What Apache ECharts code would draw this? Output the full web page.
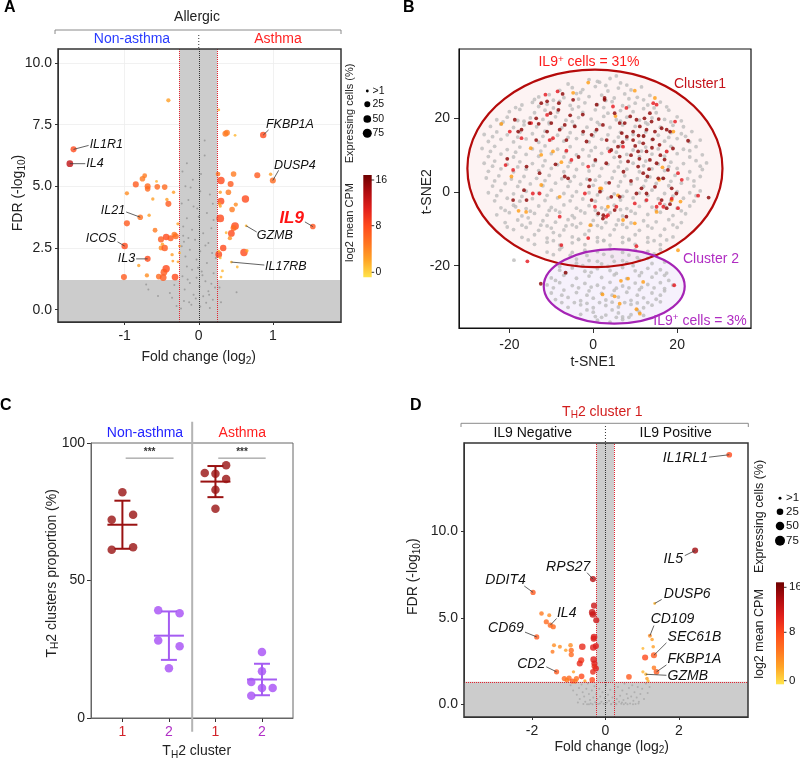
<!DOCTYPE html>
<html><head><meta charset="utf-8">
<script src="https://cdn.jsdelivr.net/npm/echarts@6/dist/echarts.min.js"></script>
<style>html,body{margin:0;padding:0;background:#fff}#c{width:800px;height:759px}</style>
</head><body><div id="c"></div>
<script>
const FONT = '"Liberation Sans", Arial, Helvetica, sans-serif';

/* ---------------- Panel A : volcano, allergic asthma vs non-asthma ---------------- */
const A_X_RANGE = [-1.9, 1.92];
const A_Y_RANGE = [-0.5, 10.57];
const A_X_TICKS = [-1, 0, 1];
const A_Y_TICKS = [0, 2.5, 5, 7.5, 10];
const A_FC_CUT = [-0.26, 0.25];
const A_FDR_CUT = 1.2;
// [fold change, FDR, log2 mean CPM, expressing cells %]
const A_GENES = [
 [-0.41,8.49,3,8],[-1.69,6.5,8,25],[-1.74,5.92,12.5,35],[-0.73,5.43,5,12],[-0.76,5.31,5,20],
 [-0.85,5.08,7,25],[-0.69,5.0,6,25],[-0.69,4.9,6,20],[-0.57,5.2,2,1],[-0.56,4.98,6,20],
 [-0.46,4.97,6,20],[-0.34,4.76,3,3],[-0.97,4.72,4,8],[-0.62,4.49,3,3],[-0.43,4.47,3,3],
 [-0.41,4.29,7,25],[-0.79,3.75,5.5,20],[-0.67,3.83,3,3],[-0.97,3.5,7,25],[-0.28,3.48,3,3],
 [-0.59,3.22,5,12],[-0.44,2.95,8,30],[-0.51,2.85,7,25],[-0.38,2.9,7,25],[-0.33,3.05,5,20],
 [-0.31,2.98,6,25],[-0.49,2.65,3,3],[-0.51,2.5,4,12],[-0.46,2.5,7,30],[-0.36,2.23,3,3],
 [-0.35,1.97,3,1],[-0.28,1.94,3,1],[-0.26,2.58,3,1],[-0.26,2.3,2,1],[-1.0,2.58,8,30],
 [-0.69,2.06,8,25],[-0.81,1.79,3,3],[-0.44,1.66,8,45],[-0.47,1.52,7,35],[-0.70,1.39,4,8],
 [-0.54,1.34,6,20],[-0.48,1.30,7,35],[-0.32,1.32,8,35],[-1.01,1.32,7,25],
 [0.27,8.1,2,1],[0.36,7.13,5,25],[0.38,7.17,5,25],[0.49,7.07,2,1],[0.87,7.08,8,30],
 [0.26,5.5,5,12],[0.47,5.5,5,20],[0.79,5.45,7,25],[0.97,5.49,3,3],[1.0,5.24,6,25],
 [0.30,5.24,8,45],[0.43,5.1,7,25],[0.29,4.76,3,3],[0.40,4.76,5,20],[0.30,4.4,8,35],
 [0.28,4.29,3,3],[0.29,4.2,3,3],[0.50,4.26,4,8],[0.63,4.49,8,45],[0.45,4.06,5,20],
 [0.29,3.7,8,50],[1.54,3.37,7.5,20],[0.64,3.4,2,1],[0.49,3.39,8,50],[0.47,3.31,6,25],
 [0.37,3.12,2,1],[0.44,3.09,8,35],[0.42,2.9,4,8],[0.33,2.5,8,30],[0.27,2.24,8,35],
 [0.61,2.32,8,45],[0.65,2.39,3,3],[0.29,2.1,2,1],[0.44,1.93,2,1],[0.52,1.73,2,1],
 [0.32,1.57,2,1],[0.30,1.32,2,1],[0.27,2.37,2,1]
];
// non-significant genes [fold change, FDR]
const A_BACKGROUND = [
 [0.08,6.86],[0.08,6.25],[-0.16,5.94],[-0.22,5.6],[-0.08,5.27],[-0.18,5.0],[0.02,4.8],[0.15,4.67],
 [-0.14,4.45],[-0.23,4.31],[-0.07,4.18],[0.11,3.92],[-0.16,3.71],[0.0,3.77],[0.2,3.64],[-0.21,3.37],
 [-0.09,3.24],[0.06,3.1],[-0.14,2.91],[-0.05,2.84],[0.13,2.7],[-0.23,2.57],[-0.12,2.43],[0.02,2.37],
 [0.18,2.3],[-0.18,2.16],[-0.03,2.03],[0.11,1.89],[-0.16,1.75],[-0.09,1.62],[0.04,1.55],[0.2,1.48],
 [-0.22,1.36],[-0.03,1.29],[0.09,1.15],[-0.12,1.08],[0.01,0.94],[-0.19,0.82],[0.13,0.75],[-0.07,0.61],
 [0.06,0.54],[0.19,0.4],[-0.2,0.35],[-0.1,0.2],[0.02,0.13],[0.15,0.07],[-0.24,0.05],[0.1,0.28],
 [-0.04,0.45],[0.22,0.9],[-0.15,1.22],[0.17,1.05],[-0.01,1.7],[0.23,2.1],[-0.2,2.75],[0.09,2.6],
 [0.17,3.3],[-0.02,4.1],[-0.11,4.95],[0.19,4.3],[0.03,5.5],[-0.21,3.0],[0.14,0.6],[-0.13,0.3],[0.05,1.4],
 [-0.71,1.02],[-0.55,0.55],[-0.39,0.68],[-0.36,0.48],[0.51,0.71],[-0.68,0.82],[0.3,0.3],[-0.3,0.15],
 [0.28,0.9],[-0.33,1.0]
];
const A_LABEL_NAMES = ['IL1R1','IL4','IL21','ICOS','IL3','FKBP1A','DUSP4','IL9','GZMB','IL17RB'];
// [point x, point y, line end x, line end y, text x, text y]
const A_LABEL_POS = [
 [-1.69,6.5,-1.487,6.66,-1.473,6.71],
 [-1.74,5.92,-1.532,5.92,-1.518,5.92],
 [-0.79,3.75,-0.979,3.96,-0.993,4.02],
 [-1.0,2.58,-1.096,2.75,-1.114,2.87],
 [-0.69,2.06,-0.845,2.06,-0.858,2.06],
 [0.87,7.08,0.943,7.29,0.907,7.49],
 [1.0,5.24,1.078,5.65,1.015,5.85],
 [1.54,3.37,1.433,3.56,1.42,3.71],
 [0.64,3.4,0.782,3.15,0.782,3.0],
 [0.44,1.93,0.885,1.81,0.894,1.77]
];
const A_LABEL_ALIGN = ['left','left','right','right','right','left','left','right','left','left'];

/* ---------------- Panel B : t-SNE ---------------- */
const B_X_RANGE = [-32, 37.6];
const B_Y_RANGE = [-36.9, 38.8];
const B_TICKS = [-20, 0, 20];
// [center x, center y, radius x, radius y]
const B_ELLIPSES = [[0.4, 6.4, 30.4, 26.8], [5.0, -25.6, 16.8, 10.1]];
const B_GREY = [
 [-1,30.5],[1.5,29.8],[4,30.8],[6.5,29.6],[3,28.9],[5.5,31.5],[8,29],[-6,29.3],[-3,27],[1,30],
 [-8,27.6],[-5,28.3],[-2.5,27.8],[0.5,28.6],[3.5,27.4],[6,28.2],[9,27.7],[11.5,28.5],
 [-13,25.8],[-10.5,26.4],[-7,25.6],[-4,26.7],[-1,25.9],[2,26.3],[5,25.5],[7.5,26.6],[10.5,25.7],[13.5,26.2],
 [-17,23.6],[-14.5,24.3],[-11,23.8],[-8,24.6],[-5.5,23.5],[-2,24.2],[1,23.7],[4.5,24.5],[7,23.4],[10,24.1],[13,23.6],[16,24.4],
 [-20,21.8],[-17.5,22.4],[-14,21.5],[-11.5,22.2],[-8.5,21.7],[-5,22.5],[-2.5,21.6],[0.5,22.3],[3.5,21.4],[6.5,22.1],[9.5,21.8],[12,22.6],[15,21.5],[18,22.2],
 [-23,19.6],[-20.5,20.3],[-18,19.4],[-15,20.1],[-12,19.7],[-9,20.4],[-6.5,19.5],[-3.5,20.2],[-0.5,19.8],[2.5,20.5],[5.5,19.6],[8,20.3],[11,19.5],[14,20.1],[17,19.7],[20,20.4],
 [-24.5,17.8],[-22,18.4],[-19,17.5],[-16.5,18.2],[-13.5,17.7],[-10.5,18.5],[-7.5,17.4],[-4.5,18.1],[-1.5,17.6],[1.5,18.3],[4,17.5],[7,18.2],[10,17.8],[13,18.4],[16,17.6],[19,18.1],[21.5,17.7],
 [-26,15.6],[-23,16.3],[-20.5,15.5],[-17.5,16.2],[-14.5,15.8],[-11.5,16.5],[-8.5,15.4],[-5.5,16.1],[-2.5,15.7],[0.5,16.4],[3.5,15.5],[6.5,16.2],[9.5,15.6],[12.5,16.3],[15.5,15.4],[18.5,16.1],[21,15.8],[23.5,16.4],
 [-25,13.7],[-22,14.3],[-19,13.6],[-16,14.4],[-13,13.5],[-10,14.2],[-7,13.8],[-4,14.5],[-1,13.6],[2,14.3],[5,13.7],[8,14.4],[11,13.5],[14,14.2],[17,13.8],[20,14.5],[23,13.6],[25.5,14.1],
 [-26.5,11.8],[-23.5,12.4],[-20.5,11.5],[-17.5,12.2],[-14.5,11.7],[-11.5,12.5],[-8.5,11.6],[-5.5,12.3],[-2.5,11.5],[0.5,12.1],[3.5,11.8],[6.5,12.5],[9.5,11.4],[12.5,12.2],[15.5,11.7],[18.5,12.4],[21.5,11.6],[24.5,12.3],
 [-25,9.6],[-22,10.3],[-19,9.5],[-16,10.2],[-13,9.7],[-10,10.4],[-7,9.5],[-4,10.1],[-1,9.8],[2,10.5],[5,9.4],[8,10.2],[11,9.6],[14,10.3],[17,9.7],[20,10.4],[23,9.5],[26,10.1],
 [-26,7.8],[-23.5,8.4],[-20.5,7.5],[-17.5,8.2],[-14.5,7.7],[-11.5,8.5],[-8.5,7.4],[-5.5,8.1],[-2.5,7.6],[0.5,8.3],[3.5,7.5],[6.5,8.2],[9.5,7.8],[12.5,8.4],[15.5,7.6],[18.5,8.1],[21.5,7.7],[24.5,8.5],[27,7.9],
 [-25,5.6],[-22,6.3],[-19,5.5],[-16,6.2],[-13,5.8],[-10,6.4],[-7,5.5],[-4,6.1],[-1,5.7],[2,6.4],[5,5.6],[8,6.2],[11,5.5],[14,6.3],[17,5.8],[20,6.4],[23,5.5],[26,6.1],
 [-25.5,3.8],[-22.5,4.4],[-19.5,3.5],[-16.5,4.2],[-13.5,3.7],[-10.5,4.5],[-7.5,3.6],[-4.5,4.2],[-1.5,3.5],[1.5,4.3],[4.5,3.8],[7.5,4.4],[10.5,3.6],[13.5,4.1],[16.5,3.7],[19.5,4.5],[22.5,3.6],[25.5,4.2],
 [-24,1.6],[-21,2.3],[-18,1.5],[-15,2.2],[-12,1.7],[-9,2.4],[-6,1.5],[-3,2.1],[0,1.8],[3,2.5],[6,1.6],[9,2.2],[12,1.5],[15,2.3],[18,1.7],[21,2.4],[24,1.6],
 [-25,-0.2],[-22,0.4],[-19,-0.5],[-16,0.2],[-13,-0.3],[-10,0.5],[-7,-0.4],[-4,0.1],[-1,-0.2],[2,0.4],[5,-0.5],[8,0.2],[11,-0.3],[14,0.5],[17,-0.4],[20,0.1],[23,-0.2],[25.5,0.3],
 [-23.5,-2.4],[-20.5,-1.7],[-17.5,-2.5],[-14.5,-1.8],[-11.5,-2.3],[-8.5,-1.6],[-5.5,-2.4],[-2.5,-1.9],[0.5,-2.5],[3.5,-1.7],[6.5,-2.2],[9.5,-1.6],[12.5,-2.4],[15.5,-1.8],[18.5,-2.3],[21.5,-1.7],[24,-2.5],
 [-22,-4.3],[-19,-3.6],[-16,-4.5],[-13,-3.8],[-10,-4.2],[-7,-3.5],[-4,-4.4],[-1,-3.7],[2,-4.3],[5,-3.6],[8,-4.5],[11,-3.9],[14,-4.1],[17,-3.5],[20,-4.4],[23,-3.8],
 [-23,-6.2],[-20,-5.6],[-17,-6.5],[-14,-5.8],[-11,-6.3],[-8,-5.5],[-5,-6.4],[-2,-5.7],[1,-6.2],[4,-5.6],[7,-6.5],[10,-5.8],[13,-6.1],[16,-5.5],[19,-6.4],[22,-5.9],
 [-21,-8.3],[-18,-7.6],[-15,-8.4],[-12,-7.8],[-9,-8.2],[-6,-7.5],[-3,-8.5],[0,-7.7],[3,-8.3],[6,-7.6],[9,-8.4],[12,-7.8],[15,-8.1],[18,-7.5],[21,-8.3],
 [-19,-10.2],[-16,-9.6],[-13,-10.4],[-10,-9.8],[-7,-10.3],[-4,-9.5],[-1,-10.5],[2,-9.7],[5,-10.2],[8,-9.6],[11,-10.4],[14,-9.8],[17,-10.1],[20,-9.6],
 [-17,-12.3],[-14,-11.6],[-11,-12.5],[-8,-11.8],[-5,-12.2],[-2,-11.5],[1,-12.4],[4,-11.7],[7,-12.3],[10,-11.6],[13,-12.4],[16,-11.8],[19,-12.2],
 [-14,-14.2],[-11,-13.6],[-8,-14.4],[-5,-13.8],[-2,-14.3],[1,-13.5],[4,-14.4],[7,-13.7],[10,-14.2],[13,-13.6],[16,-14.3],
 [-11,-16.3],[-8,-15.6],[-5,-16.4],[-2,-15.8],[1,-16.2],[4,-15.5],[7,-16.4],[10,-15.7],[13,-16.1],[16,-15.6],
 [-12.5,-9],[-9.5,-11],[-6.5,-9.2],[-3.5,-12.8],[-0.5,-9],[2.5,-13.2],[5.5,-8.9],[8.5,-13],[-15.5,-7],[-10.5,-5],
 [-4.5,-7],[0.5,-5],[6.5,-4.8],[-7.5,-15],[-1.5,-17.2],[4.5,-17.5],[10.5,-17.8],[-18.5,-4],[-20.5,-9.5],[13,-18],
 [7,-18.6],[1,-18.8],[-4,-18.2],[-18.9,-18.5],
 [-14,25.1],[-9.5,24.9],[-3.5,25.2],[3,24.8],[8.5,25.3],[12,25],
 [-18.5,22.9],[-13,23.2],[-9.5,22.8],[-3.5,23.1],[2.5,22.9],[8.5,23.2],[14.5,22.8],[17.5,23.1],
 [-21.5,19],[-16.5,19.2],[-10.5,18.9],[-5,19.1],[1,18.9],[6.5,19.2],[12.5,18.8],[18.5,19],[21,19.3],
 [-24,15],[-18,14.9],[-12,15.1],[-6,14.8],[0,15.2],[6,14.9],[12,15.1],[18,14.8],[22,15.1],
 [-24.5,11],[-18.5,10.8],[-12.5,11.1],[-6.5,10.9],[-0.5,11.2],[5.5,10.8],[11.5,11.1],[17.5,10.9],[23,11.2],
 [-24,7],[-18,6.8],[-12,7.1],[-6,6.9],[0,7.2],[6,6.8],[12,7.1],[18,6.9],[25.5,7],
 [-23.5,3],[-17.5,2.8],[-11.5,3.1],[-5.5,2.9],[0.5,3.2],[6.5,2.8],[12.5,3.1],[18.5,2.9],[24,3],
 [-23,-1],[-17,-1.2],[-11,-0.9],[-5,-1.1],[1,-0.8],[7,-1.2],[13,-0.9],[19,-1.1],[24.5,-1],
 [-21,-5],[-15,-5.2],[-9,-4.9],[-3,-5.1],[3,-4.8],[9,-5.2],[15,-4.9],[21,-5.1],
 [-17,-9],[-11,-9.2],[-5,-8.9],[1,-9.1],[7,-8.8],[13,-9.2],[19,-8.9],
 [-15.5,-13],[-9.5,-13.2],[-3.5,-12.9],[2.5,-13.1],[8.5,-12.8],[14.5,-13.2],[17.5,-13],
 [-9.5,-17],[-5.5,-17.2],[2.5,-16.9],[8.5,-17.1],[14.5,-16.8],
 [-4,-19.3],[-1,-18.6],[2,-19.5],[5,-18.8],[8,-19.2],[11,-18.5],[14,-19.4],
 [-8,-21.2],[-5,-20.6],[-2,-21.5],[1,-20.8],[4,-21.3],[7,-20.5],[10,-21.4],[13,-20.7],[16,-21.1],
 [-10,-23.3],[-7,-22.6],[-4,-23.4],[-1,-22.8],[2,-23.2],[5,-22.5],[8,-23.5],[11,-22.7],[14,-23.1],[17,-22.6],
 [-11,-25.2],[-8,-24.6],[-5,-25.4],[-2,-24.8],[1,-25.3],[4,-24.5],[7,-25.5],[10,-24.7],[13,-25.1],[16,-24.6],[19,-25.3],
 [-10,-27.4],[-7,-26.6],[-4,-27.3],[-1,-26.8],[2,-27.5],[5,-26.7],[8,-27.2],[11,-26.5],[14,-27.4],[17,-26.8],
 [-9,-29.2],[-6,-28.6],[-3,-29.5],[0,-28.8],[3,-29.3],[6,-28.5],[9,-29.4],[12,-28.7],[15,-29.1],
 [-6,-31.3],[-3,-30.6],[0,-31.4],[3,-30.8],[6,-31.2],[9,-30.5],[12,-31.4],[14,-30.7],
 [-3,-33.2],[0,-32.6],[3,-33.4],[6,-32.8],[9,-33.3],[11,-32.6],[1,-34.8],[4,-35.3],[7,-34.6],
 [-2.5,-20],[3.5,-20.2],[9.5,-20],[15,-22],[-9,-24],[-3.5,-26],[2.5,-26],[8.5,-26],[14.5,-26],[18,-24],
 [-7.5,-28],[-1.5,-28],[4.5,-28],[10.5,-28],[16,-28],[-4.5,-30],[1.5,-30],[7.5,-30],[13,-30],[-1.5,-32],
 [4.5,-32],[10.5,-32],[2,-34],[5.5,-34],[8.5,-34],[-8,-20.2],[17,-19],
 [-6.5,-22],[-0.5,-21.8],[5.5,-22.1],[11.5,-21.9],[17.5,-22],
 [-9.5,-26],[-0.5,-25.8],[5.5,-26.1],[11.5,-25.9],[17,-26.2],
 [-7.5,-30],[-1.5,-30.2],[4.5,-29.9],[10.5,-30.1],[16,-29.8],
 [0.5,-33.8],[7,-33.9],[12,-33.5]
];
const B_DARK = [
 [-12.4,24.1],[-11,24.6],[-10.2,21.4],[-8.2,24.1],[-8.3,22.3],[-4.8,25],[0.8,23.7],[2.7,25.5],[-13.6,20],[-15.2,18.7],
 [-17.1,16.9],[-10,18.7],[-8,16.9],[-6.8,18.2],[-6.4,14.1],[-4.4,17.8],[-2.4,16.4],[-1.6,13.7],[-0.4,15.5],[0.8,16.9],
 [2.3,18.2],[3.2,14.1],[-18.7,19.6],[-17.9,16.4],[-6.8,4.2],[-6,3.7],[-12.8,5.1],[-19.1,-2.2],[-15.9,-2.2],[-0.8,3.3],
 [-0.4,-2.2],[1.6,0.1],[1.2,-5.8],[2.3,-7.2],[-15.9,6.9],[-13.6,14.1],[-11,16.4],
 [2.7,25],[5.1,21.4],[6.3,18.7],[7.5,18.7],[9.5,16.4],[10.3,19.6],[11.1,17.8],[12.7,16.9],[13.5,21.4],[13.9,19.1],
 [14.7,16.4],[16.3,17.3],[17.5,16.9],[18.3,16.4],[9.5,14.1],[11.9,13.2],[10.7,11],[12.7,11],[5.9,12.3],[4.3,11.4],
 [6.3,9.6],[8.3,8.3],[10.7,6.9],[13.5,8.7],[15.1,7.8],[3.1,7.8],[11.9,5.1],[15.5,3.7],[16.7,3.7],[18.7,1],
 [22.6,13.9],[11.5,1],[12.7,-0.4],[14.7,1.4],[16.3,-2.2],[17.5,-4.4],[10.3,-0.4],[6.3,-1.3],[4.3,-1.3],[5.1,-4.9],
 [2.4,-6.3],[7.9,-6.7],[8,15],[10,12.5],[12,15.2],[14,12],[16,10],[9,10],[7,13.5],[11,9],
 [13.3,6.2],[15.8,12.8],[17,8.8],[6.8,16],[8.8,20.5],[12.2,20],[15.6,19.8],[19,11.8],[14.2,14.3],[10.8,15.3],
 [12.9,4.2],[17.8,6],[19.8,-0.4],[18.3,-3.3],[9,3],[7.2,5.5],[3.8,2.5],[-2.5,21],[-5.5,20.8],[-7.3,26.6],
 [-13,18.5],[-20.5,9],[-16.5,0.5],[-9,7.5],[-3.5,9.5],[0.5,8.7],[-1,1.5],[-6.6,-21.9],[-12.5,-24.9],[27.5,-1.5]
];
const B_RED = [
 [-11.4,26.4],[-8.5,27.3],[-11,20.9],[-19.9,16.4],[-17.1,14.6],[-14.8,18.7],[-10.4,14.1],[-6.4,11.2],[-5.2,8.7],[-1.2,6.9],
 [-19.1,6],[-14.4,-0.4],[-12.8,-0.4],[-2,-0.4],[0.4,-4],[3.5,-6.3],[-8,-6.7],[-9.6,14.6],[-20.9,7.3],
 [4.7,23.2],[7.9,22.8],[14.3,24.1],[15.1,23.7],[19.5,19.1],[17.5,11],[20.2,5.1],[21.1,3.3],[15.9,-3.1],[16.7,-4],
 [15.1,-4],[18.7,-1.8],[20.2,-4.4],[9.9,-3.1],[5.5,-4],[3.1,-6.7],[12.7,-2.2],[7.1,12.3],[3.9,11],[25,-1],
 [-15.7,-18.8],[19.3,-25.3],[-1.2,-12.5],[10.3,-14.7],[-7.6,-14.4]
];
const B_ORANGE = [
 [-1.2,29.7],[-4.8,26.9],[-21.9,18.5],[-14.9,11.9],[-12.4,10.1],[-9.6,11],[-19.5,4.2],[-16,-5.4],[-12.4,1.9],[-8,-1.3],
 [1.6,1],[-0.7,-9],[-7.6,8.1],[-17.8,-5.1],
 [9.9,27.5],[14.7,25.5],[5.3,20.6],[19.1,16.4],[16.5,6.7],[15.7,3.3],[20.8,-2.6],[18.7,-2.2],[15.1,-5.4],[5.9,-0.9],
 [7.1,-7.6],[9.9,-8.5],[1.9,1],[3.5,-4],[20.2,-15.8],
 [6.6,-24.1],[8.3,-23.5],[11.9,-24.4],[2.2,-27.8],[5.1,-28.3],[6.3,-30.3],[10.3,-31.8],[11.1,-33.0]
];

/* ---------------- Panel C : cluster proportions ---------------- */
const C_X_RANGE = [0.325, 4.667];
const C_X_TICKS = [1, 2, 3, 4];
const C_TICK_LABELS = ['1', '2', '1', '2'];
const C_TICK_STYLE = ['r', 'p', 'r', 'p'];
const C_GROUP_X = [1, 2, 3, 4];
const C_NA1 = [82.1, 72.1, 73.9, 61.2, 62.1];
const C_NA1_JITTER = [0, -0.23, 0.23, -0.23, 0.23];
const C_NA2 = [39.2, 38.1, 28.2, 26.1, 18.1];
const C_NA2_JITTER = [-0.23, 0.23, -0.23, 0.23, 0];
const C_A1 = [91.9, 89.1, 88.8, 86.9, 83.0, 76.1];
const C_A1_JITTER = [0.23, -0.23, 0, 0.23, 0, 0];
const C_A2 = [24.0, 17.0, 13.1, 10.9, 10.9, 8.1];
const C_A2_JITTER = [0, 0, -0.23, 0, 0.23, -0.23];
// significance bars [x start, x end, y]
const C_SIG = [[1.07, 2.1, 94.5], [3.06, 4.08, 94.5]];

/* ---------------- Panel D : volcano, IL9+ vs IL9- in cluster 1 ---------------- */
const D_X_RANGE = [-3.85, 3.88];
const D_Y_RANGE = [-0.735, 15.13];
const D_X_TICKS = [-2, 0, 2];
const D_Y_TICKS = [0, 5, 10];
const D_FC_CUT = [-0.245, 0.234];
const D_FDR_CUT = 1.3;
const D_GENES = [
 [3.37,14.45,8,16],[2.44,8.9,14,20],[-0.34,7.25,13,20],[-1.97,6.48,7,12],[1.34,5.84,2,1],
 [-1.74,5.26,5,8],[-1.53,5.16,4,5],[-1.61,4.78,6,12],[-1.50,4.58,6,12],[-1.42,4.49,6,12],
 [-1.87,3.9,7,12],[-0.31,5.71,12,20],[-0.36,5.32,12,25],[-0.34,5.2,12,25],[-0.25,4.87,12,20],
 [-0.31,3.9,11,25],[-0.32,3.8,11,20],[-0.33,3.29,11,25],[-0.26,3.37,11,20],[-0.32,2.59,11,25],
 [-0.30,2.36,11,20],[-0.26,2.07,11,20],[-0.34,1.88,10,16],[-0.30,2.2,10,16],[-0.63,3.33,10,25],
 [-0.66,2.55,9,20],[-0.70,2.36,10,20],[-0.65,1.62,8,16],[-0.79,1.49,6,12],[-0.95,3.42,4,8],
 [-0.93,3.13,6,12],[-0.93,2.88,6,12],[-1.08,3.13,3,3],[-1.24,3.33,4,5],[-1.40,3.42,4,5],
 [-1.44,3.04,5,5],[-1.33,1.88,7,12],[-0.87,1.88,3,2],[-1.12,1.49,6,12],[-0.99,1.52,6,12],
 [-0.9,1.35,7,12],[-0.82,1.33,5,8],[-0.56,1.35,3,2],[-0.36,1.42,8,16],[-1.05,1.4,5,8],
 [0.64,1.59,7,16],[1.21,3.97,4,5],[1.27,3.75,3,3],[1.30,3.33,3,3],[1.02,3.23,2,1],
 [1.32,2.84,7,20],[1.08,2.71,8,20],[1.32,2.11,5,8],[1.39,1.88,7,16],[1.02,1.88,2,2],
 [1.10,1.74,2,2],[1.13,1.49,3,3],[1.16,1.35,2,2]
];
const D_BACKGROUND = [
 [-0.95,1.1],[-0.88,0.8],[-0.82,1.25],[-0.78,0.55],[-0.72,0.95],[-0.7,0.3],[-0.65,1.15],[-0.62,0.7],[-0.58,0.45],[-0.55,0.15],
 [-0.52,0.9],[-0.48,1.2],[-0.45,0.6],[-0.42,0.25],[-0.4,0.05],[-0.37,0.8],[-0.33,0.4],[-0.3,1.05],[-0.28,0.12],[-0.25,0.6],
 [-0.22,0.3],[-0.2,0.02],[-0.17,0.9],[-0.14,0.45],[-0.11,0.15],[-0.08,0.7],[-0.05,0.03],[-0.02,0.35],[0.01,1.1],[0.04,0.1],
 [0.07,0.55],[0.1,0.2],[0.13,0.85],[0.16,0.02],[0.19,0.4],[0.22,0.12],[0.25,0.7],[0.28,0.05],[0.31,0.3],[0.34,1.0],
 [0.37,0.15],[0.4,0.5],[0.43,0.03],[0.46,0.8],[0.49,0.25],[0.52,1.2],[0.55,0.08],[0.58,0.6],[0.61,0.35],[0.64,0.95],
 [0.67,0.05],[0.7,0.45],[0.73,1.1],[0.76,0.2],[0.79,0.7],[0.82,0.02],[0.85,0.4],[0.88,1.0],[0.91,0.15],[0.95,0.6],
 [1.0,0.9],[1.05,0.3],[1.1,1.2],[1.15,0.65],[1.2,1.0],[-0.6,0.02],[-0.5,0.0],[-0.35,0.0],[0.0,0.0],[0.3,0.0],
 [0.6,0.0],[0.75,0.0],[-0.15,0.05],[0.45,0.1],[-0.75,0.1],[0.9,0.05],[-0.45,0.0],[0.15,0.0],[-0.25,0.0],[0.5,0.0]
];
const D_LABEL_NAMES = ['IL1RL1','IL5','RPS27','DDIT4','DUSP6','IL4','CD69','CD109','SEC61B','FKBP1A','GZMB','CD2'];
const D_LABEL_POS = [
 [3.37,14.45,2.82,14.31,2.79,14.26],
 [2.44,8.9,2.16,8.61,2.11,8.41],
 [-0.34,7.25,-0.50,7.62,-0.41,7.93],
 [-1.97,6.48,-2.21,6.85,-2.17,7.2],
 [1.34,5.84,1.53,6.07,1.59,6.38],
 [-1.50,4.58,-1.33,4.97,-1.32,5.26],
 [-1.87,3.9,-2.19,4.18,-2.22,4.43],
 [1.21,3.97,1.32,4.56,1.23,4.91],
 [1.32,2.84,1.66,3.56,1.69,3.87],
 [1.39,1.88,1.66,2.28,1.69,2.59],
 [1.10,1.74,1.66,1.68,1.69,1.64],
 [-1.33,1.88,-1.61,2.17,-1.64,2.30]
];
const D_LABEL_ALIGN = ['right','right','right','right','left','left','right','left','left','left','left','right'];

/* ---------------- legends ---------------- */
const SIZE_LEGEND = [1, 25, 50, 75];
const SIZE_LEGEND_TEXT = ['>1', '25', '50', '75'];
const CPM_RANGE = [0, 16];
const CPM_TICKS = [16, 8, 0];
const CPM_COLORS = ['#ffe44a', '#ffa526', '#ff7420', '#ff4a1c', '#e2201c', '#b00c10', '#6e0000'];

/* ---------------- styling ---------------- */
const GRID_A = {left: 58, top: 49, width: 283, height: 273};
const GRID_B = {left: 459, top: 49, width: 292, height: 279};
const GRID_C = {left: 91, top: 443, width: 202, height: 275};
const GRID_D = {left: 464, top: 443, width: 284, height: 274};
const A_SIZE_K = 7, D_SIZE_K = 8;
function dotSize(pct, k) { return 2 + k * Math.sqrt(pct / 75); }
const C_COLORS = ['#991212', '#a64df5', '#991212', '#a64df5'];

function mean(a) { return a.reduce((s, v) => s + v, 0) / a.length; }
function sd(a) { const m = mean(a); return Math.sqrt(a.reduce((s, v) => s + (v - m) * (v - m), 0) / (a.length - 1)); }

function valueAxis(grid, range, ticks, fmt, margin, tickLen, lineColor, extra) {
  return Object.assign({
    type: 'value', gridIndex: grid, min: range[0], max: range[1],
    axisLine: {show: true, onZero: false, lineStyle: {color: lineColor, width: 1}},
    axisTick: {show: true, customValues: ticks, length: tickLen, lineStyle: {color: '#333', width: 1}},
    axisLabel: {customValues: ticks, formatter: fmt, fontFamily: FONT, fontSize: 14, color: '#222', margin: margin},
    splitLine: {show: false}
  }, extra || {});
}

function labelRenderer(names, aligns, fontSize) {
  return function (params, api) {
    const i = params.dataIndex;
    const p = api.coord([api.value(0), api.value(1)]);
    const l = api.coord([api.value(2), api.value(3)]);
    const t = api.coord([api.value(4), api.value(5)]);
    const special = names[i] === 'IL9';
    return {type: 'group', children: [
      {type: 'line', shape: {x1: p[0], y1: p[1], x2: l[0], y2: l[1]}, style: {stroke: '#3a3a3a', lineWidth: 0.8}},
      {type: 'text', x: t[0], y: t[1], style: {
        text: names[i], fill: special ? '#ff1414' : '#111',
        fontFamily: FONT, fontSize: special ? 17 : fontSize, fontStyle: 'italic', fontWeight: special ? 'bold' : 'normal',
        align: aligns[i], verticalAlign: 'middle'}}
    ]};
  };
}

const dottedRed = {color: '#e3232f', type: 'dotted', width: 1};
const dottedBlack = {color: '#333', type: 'dotted', width: 1};

const C_GROUPS = [[C_NA1, C_NA1_JITTER], [C_NA2, C_NA2_JITTER], [C_A1, C_A1_JITTER], [C_A2, C_A2_JITTER]];

const series = [];
// 0 : A background
series.push({
  type: 'scatter', xAxisIndex: 0, yAxisIndex: 0, data: A_BACKGROUND, symbolSize: 2, silent: true,
  itemStyle: {color: '#8d8d8d', opacity: 0.7}, z: 2,
  markArea: {silent: true, itemStyle: {color: '#cccccc'}, data: [
    [{xAxis: A_FC_CUT[0]}, {xAxis: A_FC_CUT[1]}],
    [{yAxis: A_Y_RANGE[0]}, {yAxis: A_FDR_CUT}]
  ]},
  markLine: {silent: true, symbol: 'none', label: {show: false}, data: [
    {xAxis: A_FC_CUT[0], lineStyle: dottedRed},
    {xAxis: A_FC_CUT[1], lineStyle: dottedRed},
    {xAxis: 0, lineStyle: dottedBlack}
  ]}
});
// 1 : A significant genes
series.push({type: 'scatter', xAxisIndex: 0, yAxisIndex: 0, data: A_GENES, silent: true, z: 3,
  symbolSize: v => dotSize(v[3], A_SIZE_K)});
// 2 : A labels
series.push({type: 'custom', xAxisIndex: 0, yAxisIndex: 0, data: A_LABEL_POS, silent: true, z: 4, clip: false,
  renderItem: labelRenderer(A_LABEL_NAMES, A_LABEL_ALIGN, 12.5)});
// 3 : B ellipse fills
function ellipseRenderer(fill) {
  return function (params, api) {
    const i = params.dataIndex;
    const c = api.coord([api.value(0), api.value(1)]);
    const s = api.size([api.value(2), api.value(3)]);
    const strokes = ['#b50a0a', '#a524b5'];
    const fills = ['rgba(245,200,200,0.22)', 'rgba(225,210,245,0.3)'];
    return {type: 'ellipse', shape: {cx: c[0], cy: c[1], rx: s[0], ry: s[1]},
      style: fill ? {fill: fills[i], stroke: null} : {fill: null, stroke: strokes[i], lineWidth: 2.2}};
  };
}
series.push({type: 'custom', xAxisIndex: 1, yAxisIndex: 1, data: B_ELLIPSES, silent: true, z: 1, clip: false,
  renderItem: ellipseRenderer(true)});
// 4-7 : B points
series.push({type: 'scatter', xAxisIndex: 1, yAxisIndex: 1, data: B_GREY, symbolSize: 3.8, silent: true, z: 2,
  itemStyle: {color: '#bcbcbc'}});
series.push({type: 'scatter', xAxisIndex: 1, yAxisIndex: 1, data: B_ORANGE, symbolSize: 3.8, silent: true, z: 3,
  itemStyle: {color: '#ff9c12'}});
series.push({type: 'scatter', xAxisIndex: 1, yAxisIndex: 1, data: B_RED, symbolSize: 3.8, silent: true, z: 3,
  itemStyle: {color: '#e5141c'}});
series.push({type: 'scatter', xAxisIndex: 1, yAxisIndex: 1, data: B_DARK, symbolSize: 3.8, silent: true, z: 3,
  itemStyle: {color: '#8a0000'}});
// 8 : B ellipse outlines
series.push({type: 'custom', xAxisIndex: 1, yAxisIndex: 1, data: B_ELLIPSES, silent: true, z: 5, clip: false,
  renderItem: ellipseRenderer(false)});
// 9-12 : C points
C_GROUPS.forEach((g, gi) => {
  series.push({type: 'scatter', xAxisIndex: 2, yAxisIndex: 2, silent: true, z: 3, symbolSize: 8.5,
    itemStyle: {color: C_COLORS[gi]},
    data: g[0].map((v, i) => [C_GROUP_X[gi] + g[1][i], v])});
});
// 13 : C mean +- SD
series.push({type: 'custom', xAxisIndex: 2, yAxisIndex: 2, silent: true, z: 4, clip: false,
  data: C_GROUPS.map((g, gi) => [C_GROUP_X[gi], mean(g[0]), sd(g[0])]),
  renderItem: function (params, api) {
    const x = api.value(0), m = api.value(1), s = api.value(2);
    const c = api.coord([x, m]), t = api.coord([x, m + s]), b = api.coord([x, m - s]);
    const col = params.dataIndex % 2 === 0 ? '#9a1212' : '#a55cf2';
    const ls = {stroke: col, lineWidth: 2};
    return {type: 'group', children: [
      {type: 'line', shape: {x1: c[0] - 15, y1: c[1], x2: c[0] + 15, y2: c[1]}, style: ls},
      {type: 'line', shape: {x1: t[0], y1: t[1], x2: b[0], y2: b[1]}, style: ls},
      {type: 'line', shape: {x1: t[0] - 8, y1: t[1], x2: t[0] + 8, y2: t[1]}, style: ls},
      {type: 'line', shape: {x1: b[0] - 8, y1: b[1], x2: b[0] + 8, y2: b[1]}, style: ls}
    ]};
  }});
// 14 : C significance
series.push({type: 'custom', xAxisIndex: 2, yAxisIndex: 2, silent: true, z: 4, clip: false, data: C_SIG,
  renderItem: function (params, api) {
    const a = api.coord([api.value(0), api.value(2)]), b = api.coord([api.value(1), api.value(2)]);
    return {type: 'group', children: [
      {type: 'line', shape: {x1: a[0], y1: a[1], x2: b[0], y2: b[1]}, style: {stroke: '#8a8a8a', lineWidth: 1}},
      {type: 'text', x: (a[0] + b[0]) / 2, y: a[1] - 1, style: {text: '***', fill: '#333', fontFamily: FONT, fontSize: 10, fontWeight: 'bold', align: 'center', verticalAlign: 'bottom'}}
    ]};
  }});
// 15 : D background
series.push({
  type: 'scatter', xAxisIndex: 3, yAxisIndex: 3, data: D_BACKGROUND, symbolSize: 2, silent: true,
  itemStyle: {color: '#a8a8a8', opacity: 0.8}, z: 2,
  markArea: {silent: true, itemStyle: {color: '#cccccc'}, data: [
    [{xAxis: D_FC_CUT[0]}, {xAxis: D_FC_CUT[1]}],
    [{yAxis: D_Y_RANGE[0]}, {yAxis: D_FDR_CUT}]
  ]},
  markLine: {silent: true, symbol: 'none', label: {show: false}, data: [
    {xAxis: D_FC_CUT[0], lineStyle: dottedRed},
    {xAxis: D_FC_CUT[1], lineStyle: dottedRed},
    {yAxis: D_FDR_CUT, lineStyle: dottedRed},
    {xAxis: 0, lineStyle: dottedBlack}
  ]}
});
// 16 : D genes
series.push({type: 'scatter', xAxisIndex: 3, yAxisIndex: 3, data: D_GENES, silent: true, z: 3,
  symbolSize: v => dotSize(v[3], D_SIZE_K)});
// 17 : D labels
series.push({type: 'custom', xAxisIndex: 3, yAxisIndex: 3, data: D_LABEL_POS, silent: true, z: 4, clip: false,
  renderItem: labelRenderer(D_LABEL_NAMES, D_LABEL_ALIGN, 14)});

const fmt1 = v => v.toFixed(1);
const fmt0 = v => String(v);

const option = {
  animation: false,
  backgroundColor: '#fff',
  grid: [GRID_A, GRID_B, GRID_C, GRID_D].map(g => Object.assign({containLabel: false, show: false}, g)),
  xAxis: [
    valueAxis(0, A_X_RANGE, A_X_TICKS, fmt0, 7, 3, '#333', {splitLine: {show: true, lineStyle: {color: '#ededed', width: 0.8}}}),
    valueAxis(1, B_X_RANGE, B_TICKS, fmt0, 10, 5, '#111'),
    valueAxis(2, C_X_RANGE, C_X_TICKS, null, 7, 4, '#666', {
      axisLabel: {customValues: C_X_TICKS, fontFamily: FONT, fontSize: 14, margin: 7,
        formatter: v => '{' + C_TICK_STYLE[C_X_TICKS.indexOf(v)] + '|' + C_TICK_LABELS[C_X_TICKS.indexOf(v)] + '}',
        rich: {r: {color: '#d2232a', fontFamily: FONT, fontSize: 14}, p: {color: '#b12fc6', fontFamily: FONT, fontSize: 14}}}
    }),
    valueAxis(3, D_X_RANGE, D_X_TICKS, fmt0, 7, 3, '#333')
  ],
  yAxis: [
    valueAxis(0, A_Y_RANGE, A_Y_TICKS, fmt1, 6, 3, '#333', {splitLine: {show: true, lineStyle: {color: '#ededed', width: 0.8}}}),
    valueAxis(1, B_Y_RANGE, B_TICKS, fmt0, 9, 5, '#111'),
    valueAxis(2, [0, 100], [0, 50, 100], fmt0, 6, 4, '#666'),
    valueAxis(3, D_Y_RANGE, D_Y_TICKS, fmt1, 6, 3, '#333')
  ],
  visualMap: [
    {type: 'continuous', show: false, min: CPM_RANGE[0], max: CPM_RANGE[1], dimension: 2, seriesIndex: 1, inRange: {color: CPM_COLORS}},
    {type: 'continuous', show: false, min: CPM_RANGE[0], max: CPM_RANGE[1], dimension: 2, seriesIndex: 16, inRange: {color: CPM_COLORS}}
  ],
  series: series
};

const chart = echarts.init(document.getElementById('c'), null, {renderer: 'canvas'});
chart.setOption(option);

/* ---------------- decorations ---------------- */
function txt(x, y, text, o) {
  o = o || {};
  const col = o.color || '#111', fs = o.size || 14;
  return {type: 'text', x: x, y: y, rotation: o.rot || 0, z: 100, silent: true,
    style: {text: text, fill: col, fontSize: fs, fontFamily: FONT, fontWeight: o.weight || 'normal',
      fontStyle: o.italic ? 'italic' : 'normal', align: o.align || 'center', verticalAlign: o.valign || 'middle',
      rich: {
        s: {fontSize: fs * 0.72, fontFamily: FONT, fill: col, verticalAlign: 'bottom', padding: [fs * 0.55, 0, 0, 0]},
        u: {fontSize: fs * 0.7, fontFamily: FONT, fill: col, verticalAlign: 'top', padding: [0, 0, fs * 0.45, 0]}
      }}};
}
function frame(g, color, w) {
  return {type: 'rect', z: 90, silent: true, shape: {x: g.left, y: g.top, width: g.width, height: g.height},
    style: {fill: null, stroke: color, lineWidth: w}};
}
function line(x1, y1, x2, y2, st) {
  return {type: 'line', z: 95, silent: true, shape: {x1, y1, x2, y2}, style: st};
}
function sizeLegend(x, ys, lx, k, fs) {
  const out = [];
  SIZE_LEGEND.forEach((p, i) => {
    out.push({type: 'circle', z: 100, silent: true, shape: {cx: x, cy: ys[i], r: dotSize(p, k) / 2}, style: {fill: '#000'}});
    out.push(txt(lx, ys[i], SIZE_LEGEND_TEXT[i], {size: fs, align: 'left'}));
  });
  return out;
}
function colorBar(x, y, w, h, ys, lx, fs) {
  const stops = CPM_COLORS.slice().reverse().map((c, i, arr) => ({offset: i / (arr.length - 1), color: c}));
  const out = [{type: 'rect', z: 100, silent: true, shape: {x, y, width: w, height: h},
    style: {fill: new echarts.graphic.LinearGradient(0, 0, 0, 1, stops)}}];
  CPM_TICKS.forEach((v, i) => {
    out.push(line(x + w - 2, ys[i], x + w + 2.5, ys[i], {stroke: '#333', lineWidth: 1}));
    out.push(line(x, ys[i], x + 2, ys[i], {stroke: '#fff', lineWidth: 1}));
    out.push(txt(lx, ys[i], String(v), {size: fs, align: 'left'}));
  });
  return out;
}

const pA0 = chart.convertToPixel({gridIndex: 0}, [0, 0]);
const pC = chart.convertToPixel({gridIndex: 2}, [2.5, 0]);
const pD0 = chart.convertToPixel({gridIndex: 3}, [0, 0]);

let g = [];
// panel letters
g.push(txt(4, 8, 'A', {size: 16, weight: 'bold', align: 'left', color: '#000'}));
g.push(txt(403, 8, 'B', {size: 16, weight: 'bold', align: 'left', color: '#000'}));
g.push(txt(0, 406, 'C', {size: 16, weight: 'bold', align: 'left', color: '#000'}));
g.push(txt(410, 406, 'D', {size: 16, weight: 'bold', align: 'left', color: '#000'}));
// frames
g.push(frame(GRID_A, '#333', 1.5), frame(GRID_B, '#111', 1.2), frame(GRID_C, '#666', 1), frame(GRID_D, '#333', 1.5));
// panel A header
g.push(txt(197, 17, 'Allergic', {size: 14, color: '#222'}));
g.push({type: 'polyline', z: 95, silent: true, shape: {points: [[55, 34], [55, 30], [341, 30], [341, 34]]}, style: {stroke: '#8a8a8a', lineWidth: 1, fill: null}});
g.push(txt(132, 39, 'Non-asthma', {size: 14, color: '#2a3cff'}));
g.push(txt(278, 39, 'Asthma', {size: 14, color: '#ff2424'}));
g.push(line(pA0[0], 35, pA0[0], GRID_A.top, {stroke: '#333', lineWidth: 1, lineDash: [1, 2]}));
// panel A axis titles
g.push(txt(198.7, 357, 'Fold change (log{s|2})', {size: 14, color: '#222'}));
g.push(txt(18, 193, 'FDR (-log{s|10})', {size: 14, color: '#222', rot: Math.PI / 2}));
// panel A legends
g.push(txt(350, 113.5, 'Expressing cells (%)', {size: 11, color: '#222', rot: Math.PI / 2}));
g = g.concat(sizeLegend(367.3, [91, 104.3, 119, 133.3], 372.5, A_SIZE_K, 10.5));
g = g.concat(colorBar(363.3, 175, 8.4, 102.3, [180, 225.7, 272.3], 375.5, 10.5));
g.push(txt(350, 222.5, 'log2 mean CPM', {size: 11, color: '#222', rot: Math.PI / 2}));
// panel B
g.push(txt(589, 62.3, 'IL9{u|+} cells = 31%', {size: 14, color: '#ff1c1c'}));
g.push(txt(700, 84, 'Cluster1', {size: 14, color: '#c4121a'}));
g.push(txt(711, 259.3, 'Cluster 2', {size: 14, color: '#b02cc2'}));
g.push(txt(700, 320.7, 'IL9{u|+} cells = 3%', {size: 14, color: '#b02cc2'}));
g.push(txt(593, 361.7, 't-SNE1', {size: 14, color: '#222'}));
g.push(txt(426.7, 191.7, 't-SNE2', {size: 14, color: '#222', rot: Math.PI / 2}));
// panel C
g.push(line(pC[0], 421.7, pC[0], 731.7, {stroke: '#b4b4b4', lineWidth: 2}));
g.push(txt(145, 432.7, 'Non-asthma', {size: 14, color: '#2424ff'}));
g.push(txt(242.3, 432.7, 'Asthma', {size: 14, color: '#ff2020'}));
g.push(txt(51.7, 573.3, 'T{s|H}2 clusters proportion (%)', {size: 14, color: '#222', rot: Math.PI / 2}));
g.push(txt(196.7, 751, 'T{s|H}2 cluster', {size: 14, color: '#222'}));
// panel D header
g.push(txt(602.3, 411.7, 'T{s|H}2 cluster 1', {size: 14, color: '#d21c1c'}));
g.push({type: 'polyline', z: 95, silent: true, shape: {points: [[461, 427], [461, 423.3], [748.3, 423.3], [748.3, 427]]}, style: {stroke: '#8a8a8a', lineWidth: 1, fill: null}});
g.push(txt(532.7, 432.7, 'IL9 Negative', {size: 14, color: '#111'}));
g.push(txt(675.7, 432.7, 'IL9 Positive', {size: 14, color: '#111'}));
g.push(line(pD0[0], 426, pD0[0], GRID_D.top, {stroke: '#333', lineWidth: 1, lineDash: [1, 2]}));
g.push(txt(611.7, 746.7, 'Fold change (log{s|2})', {size: 14, color: '#222'}));
g.push(txt(413.3, 576.7, 'FDR (-log{s|10})', {size: 14, color: '#222', rot: Math.PI / 2}));
// panel D legends
g.push(txt(760, 516.5, 'Expressing cells (%)', {size: 12.5, color: '#222', rot: Math.PI / 2}));
g = g.concat(sizeLegend(780, [498.3, 511.7, 526, 540.7], 786, D_SIZE_K, 11.5));
g = g.concat(colorBar(776, 582.3, 8, 102, [587.3, 632.3, 680.7], 789, 11.5));
g.push(txt(760, 634, 'log2 mean CPM', {size: 12.5, color: '#222', rot: Math.PI / 2}));

chart.setOption({graphic: g});
</script></body></html>
